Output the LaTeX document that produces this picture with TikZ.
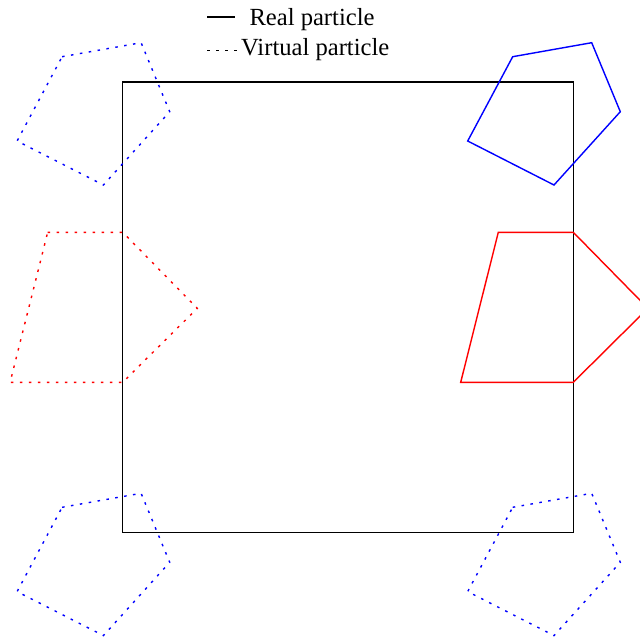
\documentclass[tikz,border=0pt]{standalone}
\usepackage{fontspec}
\setmainfont{Liberation Serif}

\begin{document}
\begin{tikzpicture}[x=0.025cm,y=-0.025cm,line width=1pt]
\tikzset{virtual/.style={dash pattern=on 1.8pt off 4.6pt},
  legendtext/.style={anchor=base west,font=\fontsize{17.5}{20}\selectfont,inner sep=0pt}}
\useasboundingbox (0,0) rectangle (640,639);
\clip (0,0) rectangle (640,639);
% simulation box
\draw (122.7,82) rectangle (573.3,532.6);
% legend
\draw (207,17) -- (235,17);
\node[legendtext] (real) at (248.8,25.5) {Real particle};
\draw[virtual] (207,50.5) -- (237.5,50.5);
\node[legendtext] (virt) at (240.5,55.5) {Virtual particle};
% blue particle and its images
\draw[blue] (512.7,56.7) -- (591.7,42.7) -- (620.3,111.7) -- (554,185) -- (467.7,141) -- cycle;
\foreach \dx/\dy in {-450.6/0, 0/450.6, -450.6/450.6}
  \draw[blue,virtual,shift={(\dx,\dy)}] (512.7,56.7) -- (591.7,42.7) -- (620.3,111.7) -- (554,185) -- (467.7,141) -- cycle;
% red particle and its image
\draw[red] (498.3,232.3) -- (573.3,232.3) -- (647.9,308.3) -- (573.3,382.3) -- (460.7,382.3) -- cycle;
\draw[red,virtual,shift={(-450.6,0)}] (498.3,232.3) -- (573.3,232.3) -- (647.9,308.3) -- (573.3,382.3) -- (460.7,382.3) -- cycle;
\end{tikzpicture}
\end{document}
